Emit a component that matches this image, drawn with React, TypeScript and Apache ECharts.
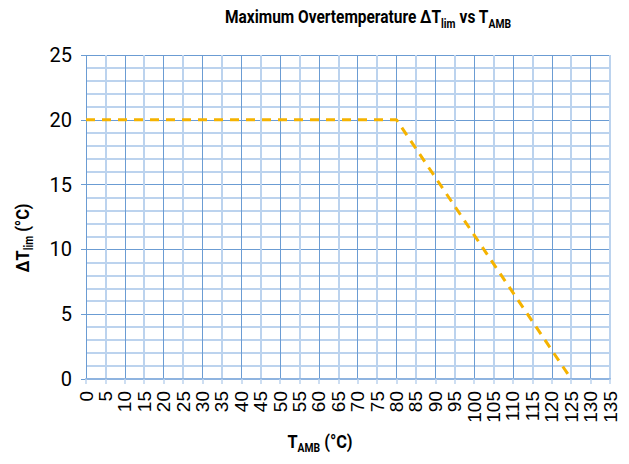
import React, { useEffect, useRef } from "react";
import * as echarts from "echarts";

const lineX = [0, 80, 125];
const lineY = [20, 20, 0];
const xMin = 0, xMax = 135, xStep = 5;
const yMin = 0, yMax = 25, yStep = 5;

const COND = "Roboto, 'Liberation Sans', sans-serif";
const DARK = "#6b9cd3";
const LIGHT = "#bcd3ee";

export default function App() {
  const ref = useRef<HTMLDivElement>(null);
  useEffect(() => {
    const chart = echarts.init(ref.current!, null, { renderer: "svg" });
    const f = (size: number) => ({ fontSize: size, fontWeight: "bold", fontFamily: COND, color: "#000" });
    const rich = (big: number, small: number) => ({
      a: { ...f(big), lineHeight: 22, verticalAlign: "top" },
      s: { ...f(small), lineHeight: 14, padding: [11, 0, 0, 0], verticalAlign: "bottom" },
    });
    chart.setOption({
      animation: false,
      backgroundColor: "#fff",
      grid: { left: 86, right: 19, top: 55, bottom: 85, containLabel: false },
      xAxis: [
        {
          type: "value", min: xMin, max: xMax, interval: xStep, position: "bottom",
          axisLine: { show: true, lineStyle: { color: "#8fb4e0", width: 2 } },
          axisTick: { show: true, length: 5, lineStyle: { color: LIGHT, width: 1.5 } },
          axisLabel: { rotate: 90, fontSize: 19, fontFamily: "'Liberation Sans', Arial, sans-serif", color: "#000", margin: 12 },
          splitLine: { show: true, lineStyle: { color: [DARK, "transparent"], width: 1 } },
        },
        {
          type: "value", min: xMin, max: xMax, interval: xStep, position: "bottom",
          axisLine: { show: false }, axisTick: { show: false }, axisLabel: { show: false },
          splitLine: { show: true, lineStyle: { color: ["transparent", LIGHT], width: 2 } },
        },
      ],
      yAxis: [
        {
          type: "value", min: yMin, max: yMax, interval: yStep, position: "left",
          axisLine: { show: false },
          axisTick: { show: true, length: 5, lineStyle: { color: DARK, width: 1 } },
          axisLabel: { fontSize: 20, fontFamily: COND, color: "#000", margin: 14 },
          splitLine: { show: true, lineStyle: { color: DARK, width: 1 } },
        },
        {
          type: "value", min: yMin, max: yMax, interval: 1, position: "left",
          axisLine: { show: false }, axisTick: { show: false }, axisLabel: { show: false },
          splitLine: { show: true, lineStyle: { color: ["transparent", LIGHT, LIGHT, LIGHT, LIGHT], width: 2 } },
        },
      ],
      series: [
        {
          type: "line", xAxisIndex: 0, yAxisIndex: 0, symbol: "none", z: 5,
          data: lineX.map((x, i) => [x, lineY[i]]),
          lineStyle: { color: "#f5b300", width: 3, type: [9, 7] },
        },
      ],
      graphic: [
        {
          type: "text", x: 368, y: 8, scaleX: 0.86,
          style: {
            text: "{a|Maximum Overtemperature ΔT}{s|lim}{a| vs T}{s|AMB}",
            align: "center", verticalAlign: "top",
            rich: rich(18, 12),
          },
        },
        {
          type: "text", x: 320, y: 432, scaleX: 0.86,
          style: {
            text: "{a|T}{s|AMB}{a| (°C)}",
            align: "center", verticalAlign: "top",
            rich: rich(19, 12),
          },
        },
        {
          type: "text", x: 13, y: 238, rotation: Math.PI / 2, scaleX: 0.86,
          style: {
            text: "{a|ΔT}{s|lim}{a| (°C)}",
            align: "center", verticalAlign: "top",
            rich: rich(19, 12),
          },
        },
      ],
    });
    return () => chart.dispose();
  }, []);
  return <div ref={ref} style={{ width: 629, height: 464, margin: -8 }} />;
}
